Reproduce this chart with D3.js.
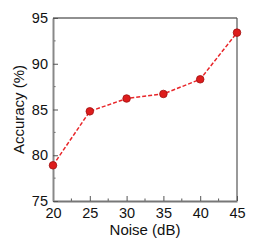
<!DOCTYPE html>
<html>
<head>
<meta charset="utf-8">
<script src="https://cdn.jsdelivr.net/npm/d3@7"></script>
<style>
  body { margin: 0; background: #fff; }
  text { font-family: "Liberation Sans", Arial, sans-serif; }
</style>
</head>
<body>
<div id="chart"></div>
<script>
const noise = [20, 25, 30, 35, 40, 45];
const accuracy = [78.9, 84.8, 86.2, 86.7, 88.3, 93.4];
const xTicks = [20, 25, 30, 35, 40, 45];
const yTicks = [75, 80, 85, 90, 95];

const fullWidth = 258, fullHeight = 252;
const margin = { top: 18, right: 21, bottom: 51, left: 53 };
const width = fullWidth - margin.left - margin.right;
const height = fullHeight - margin.top - margin.bottom;

const svg = d3.select("#chart").append("svg")
  .attr("width", fullWidth)
  .attr("height", fullHeight);

const chart = svg.append("g")
  .attr("transform", `translate(${margin.left},${margin.top})`);

const x = d3.scaleLinear().domain([20, 45]).range([0, width]);
const y = d3.scaleLinear().domain([75, 95]).range([height, 0]);

// frame: top and right
chart.append("line").attr("x1", 0).attr("x2", width).attr("y1", 0).attr("y2", 0)
  .attr("stroke", "#222").attr("stroke-width", 1.2);
chart.append("line").attr("x1", width).attr("x2", width).attr("y1", 0).attr("y2", height)
  .attr("stroke", "#555").attr("stroke-width", 1.2);

// minor ticks
const xMinor = d3.range(22.5, 45, 5);
const yMinor = d3.range(77.5, 95, 5);
chart.selectAll("line.xminor").data(xMinor).enter().append("line")
  .attr("x1", d => x(d)).attr("x2", d => x(d))
  .attr("y1", height).attr("y2", height - 2.5)
  .attr("stroke", "#555").attr("stroke-width", 1);
chart.selectAll("line.yminor").data(yMinor).enter().append("line")
  .attr("x1", 0).attr("x2", 2.5)
  .attr("y1", d => y(d)).attr("y2", d => y(d))
  .attr("stroke", "#555").attr("stroke-width", 1);

// === X Axis ===
const xAxis = chart.append("g")
  .attr("transform", `translate(0,${height})`)
  .call(d3.axisBottom(x).tickValues(xTicks).tickSizeInner(-5).tickSizeOuter(0).tickPadding(7));
xAxis.select(".domain").attr("stroke", "#777").attr("stroke-width", 2);
xAxis.selectAll(".tick line").attr("stroke", "#555");
xAxis.selectAll("text").style("font-size", "14.5px").style("fill", "#111");

// === Y Axis ===
const yAxis = chart.append("g")
  .call(d3.axisLeft(y).tickValues(yTicks).tickSizeInner(-5).tickSizeOuter(0).tickPadding(5));
yAxis.select(".domain").attr("stroke", "#888").attr("stroke-width", 2);
yAxis.selectAll(".tick line").attr("stroke", "#555");
yAxis.selectAll("text").style("font-size", "14.5px").style("fill", "#111");

// === Line ===
const data = noise.map((n, i) => ({ n, a: accuracy[i] }));
chart.append("path")
  .datum(data)
  .attr("fill", "none")
  .attr("stroke", "#e8262a")
  .attr("stroke-width", 1.5)
  .attr("stroke-dasharray", "4,2")
  .attr("d", d3.line().x(d => x(d.n)).y(d => y(d.a)));

// === Points ===
chart.selectAll("circle").data(data).enter().append("circle")
  .attr("cx", d => x(d.n)).attr("cy", d => y(d.a))
  .attr("r", 3.8)
  .attr("fill", "#dd1c1c")
  .attr("stroke", "#a01010")
  .attr("stroke-width", 0.8);

// === Titles ===
svg.append("text")
  .attr("x", margin.left + width / 2)
  .attr("y", 235)
  .attr("text-anchor", "middle")
  .style("font-size", "15px")
  .style("fill", "#111")
  .text("Noise (dB)");

svg.append("text")
  .attr("transform", `translate(24,${margin.top + height / 2}) rotate(-90)`)
  .attr("text-anchor", "middle")
  .style("font-size", "15px")
  .style("fill", "#111")
  .text("Accuracy (%)");
</script>
</body>
</html>
